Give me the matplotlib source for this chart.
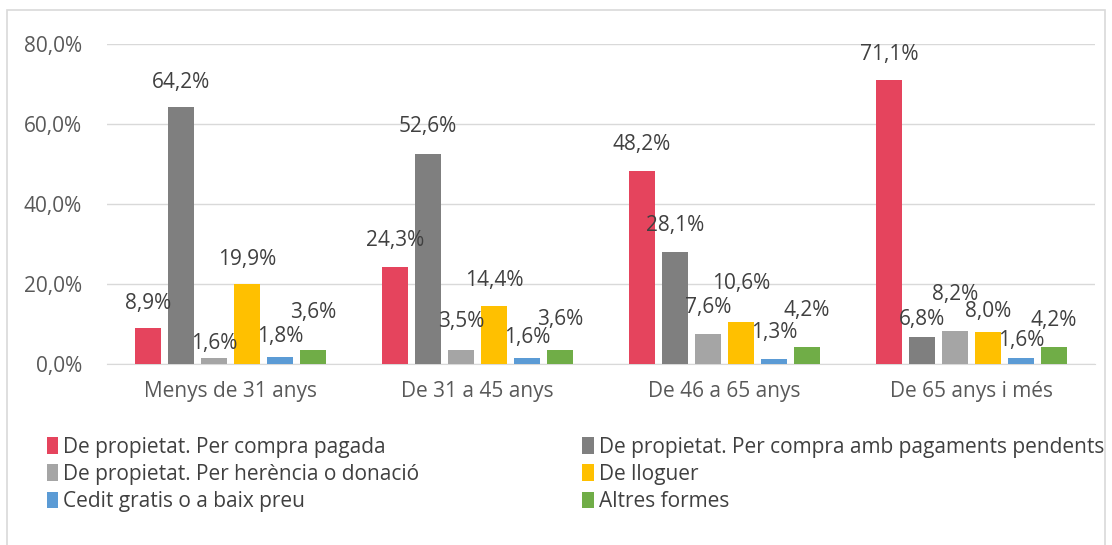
import matplotlib.pyplot as plt
from matplotlib.patches import Rectangle
import numpy as np

plt.rcParams['font.family'] = ['Open Sans', 'DejaVu Sans']

groups = ["Menys de 31 anys", "De 31 a 45 anys", "De 46 a 65 anys", "De 65 anys i més"]
series = ["De propietat. Per compra pagada",
          "De propietat. Per compra amb pagaments pendents",
          "De propietat. Per herència o donació",
          "De lloguer",
          "Cedit gratis o a baix preu",
          "Altres formes"]
compra_pagada = [8.9, 24.3, 48.2, 71.1]
pagaments_pendents = [64.2, 52.6, 28.1, 6.8]
herencia = [1.6, 3.5, 7.6, 8.2]
lloguer = [19.9, 14.4, 10.6, 8.0]
cedit = [1.8, 1.6, 1.3, 1.6]
altres = [3.6, 3.6, 4.2, 4.2]
values = [compra_pagada, pagaments_pendents, herencia, lloguer, cedit, altres]

colors = ['#E5445D', '#7F7F7F', '#A5A5A5', '#FFC000', '#5B9BD5', '#70AD47']
# label offsets above bar top (pixels), as placed in the original
offsets = [[25, 26, 27, 25],
           [25, 27, 26, 17],
           [14, 29, 26, 37],
           [25, 26, 38, 20],
           [20, 20, 26, 17],
           [37, 30, 37, 27]]

FS = 15

fig = plt.figure(figsize=(11.12, 5.45), dpi=100)
ax = fig.add_axes([107 / 1112, 1 - 364 / 545, (1095 - 107) / 1112, 320 / 545])

x = np.arange(len(groups))
pitch = 0.1336
width = 0.105
handles = []
for i, (name, vals) in enumerate(zip(series, values)):
    pos = x + (i - 2.5) * pitch
    b = ax.bar(pos, vals, width, color=colors[i], label=name, zorder=3)
    handles.append(b)
    for j, (px, v) in enumerate(zip(pos, vals)):
        ax.annotate(f"{v:.1f}%".replace('.', ','), (px, v),
                    xytext=(0, offsets[i][j] * 0.72), textcoords='offset points',
                    ha='center', va='center', fontsize=FS, color='#404040', zorder=4)

ax.set_xlim(-0.5, len(groups) - 0.5)
ax.set_ylim(0, 80)
ax.set_yticks([0, 20, 40, 60, 80])
ax.set_yticklabels([f"{t:.1f}%".replace('.', ',') for t in [0, 20, 40, 60, 80]])
ax.set_xticks(x)
ax.set_xticklabels(groups)
ax.tick_params(length=0, labelsize=FS, colors='#595959')
ax.tick_params(axis='x', pad=12)
ax.tick_params(axis='y', pad=18)
ax.grid(axis='y', color='#D9D9D9', linewidth=1, zorder=0)
for s in ['top', 'right', 'left']:
    ax.spines[s].set_visible(False)
ax.spines['bottom'].set_color('#D9D9D9')

# row-wise legend order like the original
order = [0, 2, 4, 1, 3, 5]
leg = fig.legend([handles[k] for k in order], [series[k] for k in order],
                 loc='upper left', bbox_to_anchor=(28 / 1112, 1 - 418 / 545), ncol=2,
                 frameon=False, fontsize=FS, handlelength=0.55, handleheight=0.85,
                 handletextpad=0.25, columnspacing=7.8, labelspacing=0.3)
for t in leg.get_texts():
    t.set_color('#404040')

fig.patches.append(Rectangle((7 / 1112, -0.1), 1098 / 1112, 1.1 - 10 / 545,
                             transform=fig.transFigure, fill=False,
                             edgecolor='#D9D9D9', linewidth=1.2))

fig.savefig('out.png', dpi=100)
